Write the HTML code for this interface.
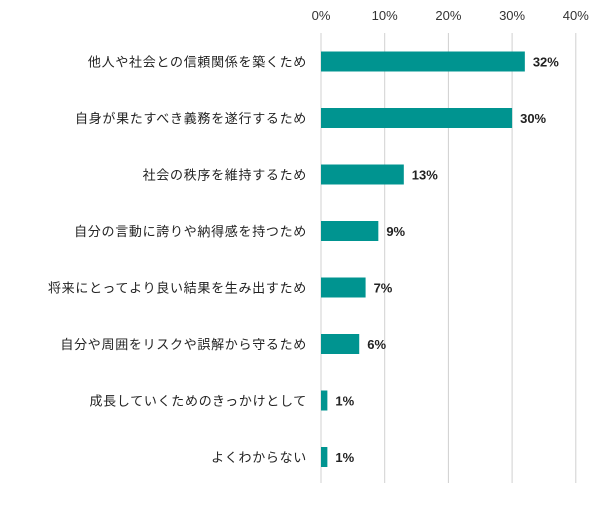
<!DOCTYPE html>
<html><head><meta charset="utf-8"><style>
body{margin:0;background:#fff;}
svg text{font-family:"Liberation Sans","Noto Sans CJK JP",sans-serif;}
</style></head><body>
<svg width="600" height="509" viewBox="0 0 600 509">
<g id="grid"></g><g id="bars"></g><g id="labels"></g>
</svg>
<script>
const categories=["他人や社会との信頼関係を築くため","自身が果たすべき義務を遂行するため","社会の秩序を維持するため","自分の言動に誇りや納得感を持つため","将来にとってより良い結果を生み出すため","自分や周囲をリスクや誤解から守るため","成長していくためのきっかけとして","よくわからない"];
const values=[32,30,13,9,7,6,1,1];
const ticks=[0,10,20,30,40];
const NS="http://www.w3.org/2000/svg";
const x=v=>321+v*6.37;
const yc=i=>61.5+i*56.5;
function mk(tag,attrs,parent,text){const e=document.createElementNS(NS,tag);for(const k in attrs)e.setAttribute(k,attrs[k]);if(text!==undefined)e.textContent=text;document.getElementById(parent).appendChild(e);return e;}
ticks.forEach(t=>{
 const l=mk('line',{x1:x(t),x2:x(t),y1:33,y2:483,stroke:'#d0d0d0','stroke-width':1},'grid');
 
 
 const tx=mk('text',{x:x(t),y:20,'text-anchor':'middle','font-size':13,fill:'#333'},'grid',t+'%');
 
 
});
categories.forEach((c,i)=>{
 const r=mk('rect',{x:x(0),y:yc(i)-10,width:x(values[i])-x(0),height:20,fill:'#009490'},'bars');
 
 
 const lt=mk('text',{x:307,y:yc(i)+5,'text-anchor':'end','font-size':13,'letter-spacing':'0.7',fill:'#222'},'labels',c);
 
 
 const vt=mk('text',{x:x(values[i])+8,y:yc(i)+5,'font-size':13,'font-weight':'bold',fill:'#222'},'labels',values[i]+'%');
 
 
});
</script>
</body></html>
